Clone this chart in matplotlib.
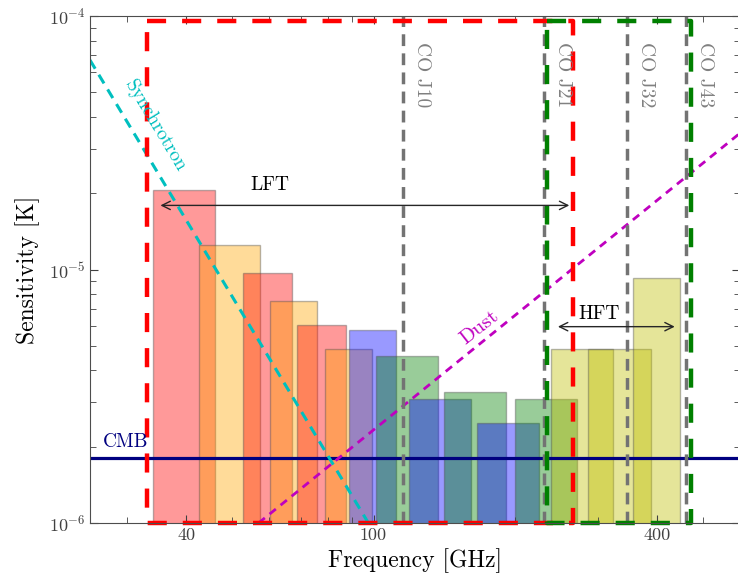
import matplotlib
matplotlib.use('Agg')
import matplotlib.pyplot as plt
from matplotlib.ticker import FixedLocator, NullFormatter

plt.rcParams['font.family'] = ['cmr10', 'DejaVu Serif']
plt.rcParams['mathtext.fontset'] = 'cm'
plt.rcParams['axes.formatter.use_mathtext'] = True

# band centres [GHz], fractional bandwidth, sensitivity [K]
freqs = [40, 50, 60, 68, 78, 89, 100, 119, 140, 166, 195, 235, 280, 337, 402]
frac_bw = [0.30, 0.30, 0.24, 0.23, 0.24, 0.23, 0.23, 0.30, 0.30, 0.30, 0.30, 0.30, 0.30, 0.31, 0.23]
sens = [2.05e-5, 1.245e-5, 9.71e-6, 7.53e-6, 6.06e-6, 4.87e-6, 5.77e-6, 4.57e-6,
        3.09e-6, 3.29e-6, 2.49e-6, 3.08e-6, 4.87e-6, 4.87e-6, 9.23e-6]
band_colors = ['r', 'orange', 'r', 'orange', 'r', 'orange', 'b', 'g', 'b', 'g', 'b', 'g', 'y', 'y', 'y']

# foregrounds (straight lines in log-log, end points)
cmb_level = 1.8e-6
sync_freq = [25, 100]
sync_vals = [6.7e-5, 9.25e-7]
dust_freq = [57, 600]
dust_vals = [1.0e-6, 3.45e-5]

# CO lines
co_freqs = [115.27, 230.54, 345.80, 461.04]
co_names = ['CO J10', 'CO J21', 'CO J32', 'CO J43']

# telescope boxes and arrows
lft_box = (33.1, 265.0)
hft_box = (234.0, 472.6)
box_top = 0.958e-4
lft_arrow = (34.8, 264.0, 1.79e-5)
hft_arrow = (243.0, 442.0, 5.95e-6)

fig = plt.figure(figsize=(7.38, 5.81), dpi=100)
ax = fig.add_axes([90 / 738, 58 / 581, 650 / 738, 507 / 581])
ax.set_xscale('log')
ax.set_yscale('log')
ax.set_xlim(25, 600)
ax.set_ylim(1e-6, 1e-4)

floor = 1e-8
for f, bw, s, c in zip(freqs, frac_bw, sens, band_colors):
    ax.bar(f, s - floor, width=f * bw, bottom=floor, color=c, alpha=0.4,
           edgecolor='0.3', linewidth=1.0)

ax.axhline(cmb_level, color='navy', lw=2.3)
ax.text(26.6, 1.92e-6, 'CMB', color='navy', fontsize=14, ha='left', va='bottom')

ax.plot(sync_freq, sync_vals, color='c', lw=2.2, dashes=(3.3, 2.3))
ax.text(34.4, 3.68e-5, 'Synchrotron', color='c', fontsize=14, rotation=-59,
        ha='center', va='center', rotation_mode='anchor')
ax.plot(dust_freq, dust_vals, color='m', lw=2.0, dashes=(2.9, 2.2))
ax.text(167.5, 5.9e-6, 'Dust', color='m', fontsize=15, rotation=38,
        ha='center', va='center', rotation_mode='anchor')

for f, name in zip(co_freqs, co_names):
    ax.axvline(f, color='0.45', lw=2.5, dashes=(3.4, 2.1))
    ax.text(f * 1.05, 7.9e-5, name, color='0.5', fontsize=14, rotation=270,
            ha='left', va='top')

lx = [lft_box[0], lft_box[1], lft_box[1], lft_box[0], lft_box[0]]
ly = [box_top, box_top, 1e-6, 1e-6, box_top]
ax.plot(lx, ly, color='r', lw=3.2, dashes=(4.3, 3.6), clip_on=False)
hx = [hft_box[0], hft_box[1], hft_box[1], hft_box[0], hft_box[0]]
ax.plot(hx, ly, color='g', lw=3.2, dashes=(4.3, 3.6), clip_on=False)

ax.annotate('', xy=(lft_arrow[0], lft_arrow[2]), xytext=(lft_arrow[1], lft_arrow[2]),
            arrowprops=dict(arrowstyle='<->', color='0.15', lw=1.0, mutation_scale=15))
ax.text(60.3, 1.99e-5, 'LFT', fontsize=14, ha='center', va='bottom')
ax.annotate('', xy=(hft_arrow[0], hft_arrow[2]), xytext=(hft_arrow[1], hft_arrow[2]),
            arrowprops=dict(arrowstyle='<->', color='0.15', lw=1.0, mutation_scale=15))
ax.text(300.8, 6.17e-6, 'HFT', fontsize=14, ha='center', va='bottom')

ax.xaxis.set_major_locator(FixedLocator([40, 100, 400]))
ax.set_xticklabels(['40', '100', '400'])
ax.xaxis.set_minor_locator(FixedLocator([30, 50, 60, 70, 80, 90, 200, 300, 500]))
ax.xaxis.set_minor_formatter(NullFormatter())
ax.tick_params(which='both', direction='in', top=True, right=True, labelsize=13,
               colors='0.25')
ax.tick_params(which='major', length=6)
ax.tick_params(which='minor', length=4)
for sp in ax.spines.values():
    sp.set_color('0.3')

ax.set_xlabel('Frequency [GHz]', fontsize=17, labelpad=4)
ax.set_ylabel('Sensitivity [K]', fontsize=17, labelpad=6)

fig.savefig('out.png', dpi=100)
